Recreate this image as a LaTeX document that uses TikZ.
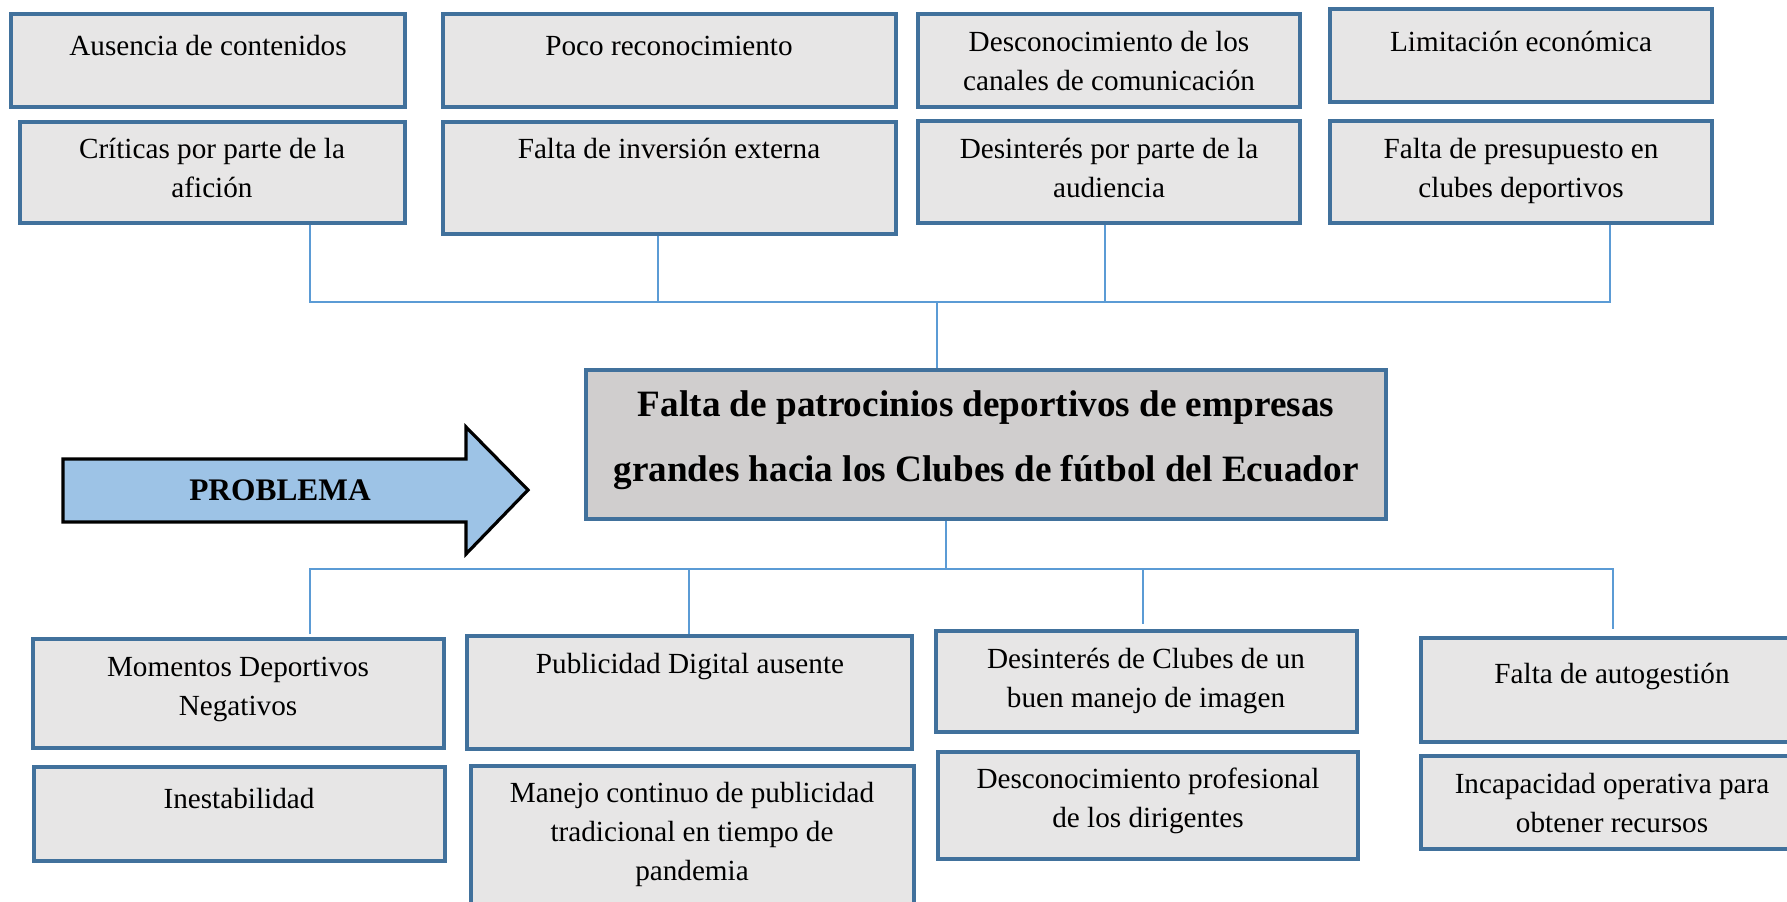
\documentclass[tikz,border=0pt]{standalone}
\usepackage{fontspec}
\setmainfont{Liberation Serif}
\usetikzlibrary{fit}
\definecolor{boxfill}{HTML}{E7E6E6}
\definecolor{boxline}{HTML}{41719C}
\definecolor{cenfill}{HTML}{D0CECE}
\definecolor{connline}{HTML}{5B9BD5}
\definecolor{arrfill}{HTML}{9DC3E6}
\tikzset{
  cbox/.style={draw=boxline, fill=boxfill, line width=1.6pt, inner sep=0pt},
  cenbox/.style={draw=boxline, fill=cenfill, line width=1.6pt, inner sep=0pt},
  txt/.style={anchor=base, align=center, inner sep=0pt, font=\fontsize{14.6}{19.4}\selectfont},
  bigtxt/.style={anchor=base, align=center, inner sep=0pt, font=\fontsize{18.6}{32.5}\selectfont\bfseries},
  conn/.style={draw=connline, line width=0.75pt},
}
\begin{document}
\begin{tikzpicture}[x=0.5pt,y=-0.5pt]
\useasboundingbox (0,0) rectangle (1787,901);
\clip (0,0) rectangle (1787,901);
\fill[white] (0,0) rectangle (1787,901);
% top boxes (text anchor = baseline of last line)
\node[cbox, fit={(11,14) (405,107)}] (aus) {};
\node[txt] (ausT) at (208,55) {Ausencia de contenidos};
\node[cbox, fit={(20,122) (405,223)}] (crit) {};
\node[txt] (critT) at (212,197) {Críticas por parte de la\\afición};
\node[cbox, fit={(443,14) (896,107)}] (poco) {};
\node[txt] (pocoT) at (669,55) {Poco reconocimiento};
\node[cbox, fit={(443,122) (896,234)}] (inv) {};
\node[txt] (invT) at (669,158) {Falta de inversión externa};
\node[cbox, fit={(918,14) (1300,107)}] (desc) {};
\node[txt] (descT) at (1109,90) {Desconocimiento de los\\canales de comunicación};
\node[cbox, fit={(918,121) (1300,223)}] (aud) {};
\node[txt] (audT) at (1109,197) {Desinterés por parte de la\\audiencia};
\node[cbox, fit={(1330,9) (1712,102)}] (lim) {};
\node[txt] (limT) at (1521,51) {Limitación económica};
\node[cbox, fit={(1330,121) (1712,223)}] (pres) {};
\node[txt] (presT) at (1521,197) {Falta de presupuesto en\\clubes deportivos};
% central problem
\node[cenbox, fit={(586,370) (1386,519)}] (centro) {};
\node[bigtxt] (centroT) at (986,481) {Falta de patrocinios deportivos de empresas\\grandes hacia los Clubes de fútbol del Ecuador};
% arrow
\draw[fill=arrfill, line width=1.6pt, line join=miter] (63,459) -- (466,459) -- (466,427) -- (528,490) -- (466,554) -- (466,522) -- (63,522) -- cycle;
\node[anchor=base, inner sep=0pt, font=\fontsize{15.7}{19}\selectfont\bfseries] (prob) at (280,500) {PROBLEMA};
% bottom boxes
\node[cbox, fit={(33,639) (444,748)}] (mom) {};
\node[txt] (momT) at (238,715) {Momentos Deportivos\\Negativos};
\node[cbox, fit={(34,767) (445,861)}] (ines) {};
\node[txt] (inesT) at (239,808) {Inestabilidad};
\node[cbox, fit={(467,636) (912,749)}] (pub) {};
\node[txt] (pubT) at (690,673) {Publicidad Digital ausente};
\node[cbox, fit={(471,766) (914,940)}] (man) {};
\node[txt] (manT) at (692,880) {Manejo continuo de publicidad\\tradicional en tiempo de\\pandemia};
\node[cbox, fit={(936,631) (1357,732)}] (dcl) {};
\node[txt] (dclT) at (1146,707) {Desinterés de Clubes de un\\buen manejo de imagen};
\node[cbox, fit={(938,752) (1358,859)}] (dpro) {};
\node[txt] (dproT) at (1148,827) {Desconocimiento profesional\\de los dirigentes};
\node[cbox, fit={(1421,638) (1803,742)}] (auto) {};
\node[txt] (autoT) at (1612,683) {Falta de autogestión};
\node[cbox, fit={(1421,756) (1803,849)}] (inc) {};
\node[txt] (incT) at (1612,832) {Incapacidad operativa para\\obtener recursos};
% top connectors
\coordinate (tb1) at (310,302);
\coordinate (tb2) at (658,302);
\coordinate (tb3) at (1105,302);
\coordinate (tb4) at (1610,302);
\coordinate (tbc) at (937,302);
\draw[conn] (crit.south -| tb1) -- (tb1) -- (tb4) -- (pres.south -| tb4);
\draw[conn] (inv.south -| tb2) -- (tb2);
\draw[conn] (aud.south -| tb3) -- (tb3);
\draw[conn] (tbc) -- (centro.north -| tbc);
% bottom connectors
\coordinate (bb1) at (310,569);
\coordinate (bb2) at (689,569);
\coordinate (bb3) at (1143,569);
\coordinate (bb4) at (1613,569);
\coordinate (bbc) at (946,569);
\coordinate (be1) at (310,634);
\coordinate (be3) at (1143,624);
\coordinate (be4) at (1613,629);
\draw[conn] (centro.south -| bbc) -- (bbc);
\draw[conn] (be1) -- (bb1) -- (bb4) -- (be4);
\draw[conn] (bb2) -- (pub.north -| bb2);
\draw[conn] (bb3) -- (be3);
\end{tikzpicture}
\end{document}
